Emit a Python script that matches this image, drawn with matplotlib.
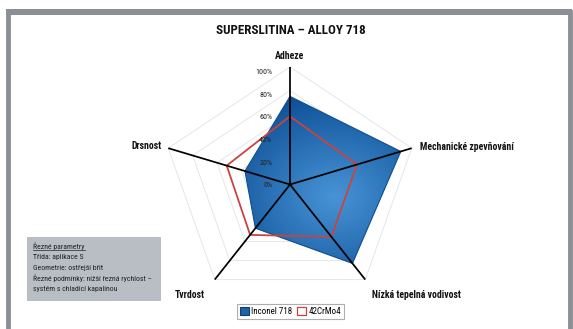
import numpy as np
import matplotlib
matplotlib.use("Agg")
import matplotlib.pyplot as plt
from matplotlib.patches import Polygon, Rectangle, Patch
from matplotlib.lines import Line2D
from matplotlib.font_manager import findfont, FontProperties

# ---------------- data ----------------
categories = ["Adheze", "Mechanické zpevňování", "Nízká tepelná vodivost", "Tvrdost", "Drsnost"]
inconel_718 = [75, 91, 83, 46, 37]
crmo_42 = [58, 55, 55, 53, 52]
series_names = ["Inconel 718", "42CrMo4"]
tick_values = [0, 20, 40, 60, 80, 100]
tick_labels = ["0%", "20%", "40%", "60%", "80%", "100%"]
title = "SUPERSLITINA – ALLOY 718"
info_lines = ["Řezné parametry", "Třída: aplikace S", "Geometrie: ostřejší břit",
              "Řezné podmínky: nižší řezná rychlost –", "systém s chladicí kapalinou"]

# ---------------- fonts ----------------
def pick(fams):
    for f in fams:
        try:
            p = findfont(FontProperties(family=f), fallback_to_default=False)
            if p:
                return f
        except Exception:
            pass
    return "DejaVu Sans"
FAM = pick(["Liberation Sans Narrow", "Roboto Condensed", "DejaVu Sans"])
plt.rcParams["font.family"] = [FAM, "DejaVu Sans"]

W, H = 573, 329
fig = plt.figure(figsize=(W / 100, H / 100), dpi=100)
fig.patch.set_facecolor("white")

# outer frame
fig.patches.append(Rectangle((7.5 / W, -0.05), (570.0 - 7.5) / W, (329 - 12) / H + 0.05,
                             transform=fig.transFigure, fill=False,
                             edgecolor="#8a9095", linewidth=3.5, zorder=0))
fig.patches.append(Rectangle((5.5 / W, (329 - 15) / H), (571.5 - 5.5) / W, 6 / H,
                             transform=fig.transFigure, facecolor="#8a9095",
                             edgecolor="none", zorder=0))

# radar axes (cartesian, x slightly stretched like the reference)
cx, cy = 290.0, 184.5
sx, sy = 128.0, 117.5
lim = 1.25
ax = fig.add_axes([(cx - lim * sx) / W, (H - cy - lim * sy) / H, 2 * lim * sx / W, 2 * lim * sy / H])
ax.set_xlim(-lim, lim)
ax.set_ylim(-lim, lim)
ax.axis("off")

n = len(categories)
ang = np.deg2rad(90 - 72 * np.arange(n))
ux, uy = np.cos(ang), np.sin(ang)

# grid pentagons
for t in tick_values[1:]:
    r = t / 100
    ax.add_patch(Polygon(np.c_[ux * r, uy * r], closed=True, fill=False,
                         edgecolor="#e6e6e6", linewidth=0.7, zorder=1))

# Inconel gradient fill
r_in = np.array(inconel_718) / 100
poly_in = Polygon(np.c_[ux * r_in, uy * r_in], closed=True, facecolor="none",
                  edgecolor="#0d4f8f", linewidth=0.8, zorder=3)
ax.add_patch(poly_in)
gx, gy = np.meshgrid(np.linspace(-1.1, 1.1, 300), np.linspace(-1.1, 1.1, 300))
d = np.sqrt((gx - 0.35) ** 2 + ((gy + 0.1) * 1.1) ** 2)
d = np.clip(d / 1.1, 0, 1)
c0 = np.array([0.28, 0.58, 0.84])
c1 = np.array([0.03, 0.28, 0.56])
img = c0[None, None, :] * (1 - d[..., None]) + c1[None, None, :] * d[..., None]
im = ax.imshow(img, extent=(-1.1, 1.1, -1.1, 1.1), origin="lower", zorder=2,
               aspect="auto", interpolation="bilinear")
clip = Polygon(np.c_[ux * r_in, uy * r_in], closed=True, transform=ax.transData)
im.set_clip_path(clip)
ax.set_xlim(-lim, lim)
ax.set_ylim(-lim, lim)

# 42CrMo4 outline
r_cr = np.array(crmo_42) / 100
ax.add_patch(Polygon(np.c_[ux * r_cr, uy * r_cr], closed=True, fill=False,
                     edgecolor="#c9443f", linewidth=1.3, zorder=4))

# spokes
for i in range(n):
    ax.plot([0, ux[i]], [0, uy[i]], color="black", linewidth=1.25, zorder=5,
            solid_capstyle="butt")

# tick labels
for t, lab in zip(tick_values, tick_labels):
    ax.text(-0.14, t / 100 * 0.96 - 0.005, lab, ha="right", va="center", fontsize=5.8,
            color="#222222", zorder=6)

# category labels
lab_pos = [(0.0, 1.095, "center"), (1.016, 0.319, "left"), (0.64, -0.94, "left"),
           (-0.78, -0.94, "center"), (-1.0, 0.328, "right")]
for (x, y, ha), c in zip(lab_pos, categories):
    ax.text(x, y, c, ha=ha, va="center", fontsize=7, fontweight="bold",
            color="#111111", clip_on=False)

# title
fig.text(291 / W, 1 - 31 / H, title, ha="center", va="center", fontsize=9.4,
         fontweight="bold", color="#111111")

# legend
handles = [Patch(facecolor="#1f64a6", edgecolor="#0d3f70", linewidth=0.8),
           Patch(facecolor="white", edgecolor="#c9443f", linewidth=0.9)]
leg = fig.legend(handles, series_names, loc="center", bbox_to_anchor=(290.5 / W, 17.5 / H),
                 ncol=2, fontsize=6.5, frameon=True, fancybox=False, handlelength=1.0,
                 handleheight=1.0, handletextpad=0.2, columnspacing=0.6,
                 borderpad=0.3, borderaxespad=0)
leg.get_frame().set_edgecolor("#9a9a9a")
leg.get_frame().set_linewidth(0.8)

# info box
bx0, by0, bx1, by1 = 27, 237, 160, 300
fig.patches.append(Rectangle((bx0 / W, 1 - by1 / H), (bx1 - bx0) / W, (by1 - by0) / H,
                             transform=fig.transFigure, facecolor="#b8bec4",
                             edgecolor="#aab0b6", linewidth=0.5, zorder=1))
texts = []
for k, line in enumerate(info_lines):
    t = fig.text(33 / W, 1 - (246 + k * 10.8) / H, line, ha="left", va="center",
                 fontsize=5.55, color="#222222", zorder=2)
    texts.append(t)
fig.canvas.draw()
bb = texts[0].get_window_extent()
fig.add_artist(Line2D([bb.x0 / W, bb.x1 / W], [(bb.y0 - 0.5) / H, (bb.y0 - 0.5) / H],
                      transform=fig.transFigure, color="#222222", linewidth=0.5))

fig.savefig("out.png", dpi=100)
